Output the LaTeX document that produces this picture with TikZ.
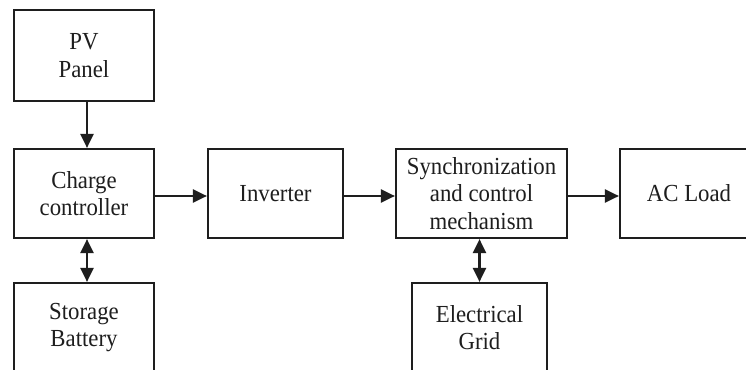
\documentclass[tikz,border=0pt]{standalone}
\usepackage{fontspec}
\setmainfont{Liberation Serif}[FakeStretch=0.93]
\usetikzlibrary{arrows.meta}
\definecolor{ink}{HTML}{1E1E1E}
\tikzset{
  blk/.style={draw=ink, line width=2.2pt, fill=white, inner sep=0pt, align=center,
    text=ink, font=\fontsize{24.5}{27.5}\selectfont},
  conn/.style={draw=ink, line width=2.2pt, -{Triangle[length=14pt,width=13pt]}},
  biconn/.style={draw=ink, line width=2.2pt, {Triangle[length=14pt,width=13pt]}-{Triangle[length=14pt,width=13pt]}}
}
\begin{document}
\begin{tikzpicture}[x=1pt,y=-1pt]
\clip (0,0) rectangle (746,369);
\fill[white] (0,0) rectangle (746,369);
\node[blk, minimum width=140pt, minimum height=91pt] (pv) at (84,55.5) {PV\\Panel};
\node[blk, minimum width=140pt, minimum height=89pt] (cc) at (84,193.5) {Charge\\controller};
\node[blk, minimum width=140pt, minimum height=89pt] (sb) at (84,327.5) {Storage\\Battery};
\node[blk, minimum width=135pt, minimum height=89pt] (inv) at (275.5,193.5) {Inverter};
\node[blk, minimum width=171pt, minimum height=89pt] (sync) at (481.5,193.5) {Synchronization\\and control\\mechanism};
\node[blk, minimum width=135pt, minimum height=89pt] (grid) at (479.5,327.5) {Electrical\\Grid};
\node[blk, minimum width=138pt, minimum height=89pt] (ac) at (689,193.5) {AC Load};
\draw[conn] ([xshift=3pt]pv.south) -- ([xshift=3pt]cc.north);
\draw[biconn] ([xshift=3pt]cc.south) -- ([xshift=3pt]sb.north);
\draw[conn] ([yshift=-2.5pt]cc.east) -- ([yshift=-2.5pt]inv.west);
\draw[conn] ([yshift=-2.5pt]inv.east) -- ([yshift=-2.5pt]sync.west);
\draw[conn] ([yshift=-2.5pt]sync.east) -- ([yshift=-2.5pt]ac.west);
\draw[biconn] (grid.north |- sync.south) -- (grid.north);
\end{tikzpicture}
\end{document}
